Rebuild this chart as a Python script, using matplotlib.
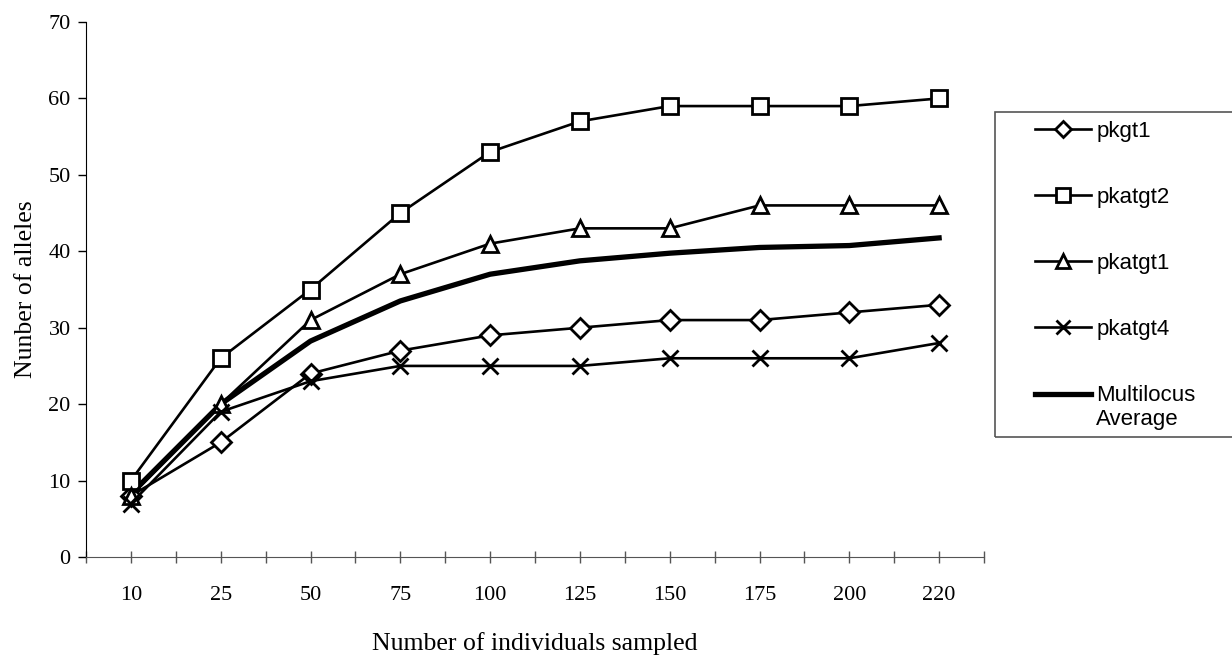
import matplotlib
matplotlib.use("Agg")
import matplotlib.pyplot as plt
from matplotlib.legend_handler import HandlerLine2D
from matplotlib.patches import Rectangle
import numpy as np

# data
samples = ["10", "25", "50", "75", "100", "125", "150", "175", "200", "220"]
pkgt1 = [8, 15, 24, 27, 29, 30, 31, 31, 32, 33]
pkatgt2 = [10, 26, 35, 45, 53, 57, 59, 59, 59, 60]
pkatgt1 = [8, 20, 31, 37, 41, 43, 43, 46, 46, 46]
pkatgt4 = [7, 19, 23, 25, 25, 25, 26, 26, 26, 28]
multilocus = [8.25, 20, 28.25, 33.5, 37, 38.75, 39.75, 40.5, 40.75, 41.75]

plt.rcParams['font.family'] = ['Liberation Serif', 'DejaVu Serif']


class HandlerTopLine(HandlerLine2D):
    # puts the handle line level with the first text line of a 2-line label
    def create_artists(self, legend, orig_handle, xdescent, ydescent, width, height, fontsize, trans):
        artists = super().create_artists(legend, orig_handle, xdescent, ydescent, width, height, fontsize, trans)
        for a in artists:
            a.set_ydata(np.asarray(a.get_ydata()) + 0.62 * fontsize)
        return artists


W, H = 1232, 659
fig = plt.figure(figsize=(W / 100, H / 100), dpi=100)
ax = fig.add_axes([86 / W, 1 - 557 / H, 898 / W, 535 / H])

x = np.arange(len(samples))
lw = 1.9
ax.plot(x, pkgt1, color='black', lw=lw, marker='D', ms=10, mfc='white', mew=2, label='pkgt1', zorder=3)
ax.plot(x, pkatgt2, color='black', lw=lw, marker='s', ms=12, mfc='white', mew=2, label='pkatgt2', zorder=3)
ax.plot(x, pkatgt1, color='black', lw=lw, marker='^', ms=12, mfc='white', mew=2, label='pkatgt1', zorder=3)
ax.plot(x, pkatgt4, color='black', lw=lw, marker='x', ms=12, mew=2, label='pkatgt4', zorder=3)
ax.plot(x, multilocus, color='black', lw=3.8, label='Multilocus\nAverage', zorder=2)

ax.set_xlim(-0.5, len(samples) - 0.5)
ax.set_ylim(0, 70)
ax.set_yticks(np.arange(0, 71, 10))
ax.set_xticks(x)
ax.set_xticklabels(samples)
ax.set_xticks(np.arange(-0.5, len(samples)), minor=True)
ax.tick_params(axis='x', which='both', length=8, direction='inout', width=1, color='#555555')
ax.tick_params(axis='x', which='major', pad=17, labelsize=16)
ax.tick_params(axis='y', length=6, width=1, labelsize=16, pad=5)

ax.spines['top'].set_visible(False)
ax.spines['right'].set_visible(False)
ax.spines['bottom'].set_color('#555555')

ax.set_ylabel('Nunber of alleles', fontsize=18.5, labelpad=8.5)
ax.set_xlabel('Number of individuals sampled', fontsize=18.5, labelpad=19)

# legend frame runs past the right edge, as in the source image
fig.patches.append(Rectangle((995 / W, 1 - 437 / H), 300 / W, 325 / H, transform=fig.transFigure,
                             fill=False, edgecolor='#555555', lw=1.2))
handles, labels = ax.get_legend_handles_labels()
leg = ax.legend(handles, labels, loc='upper left', bbox_to_anchor=(1035 / W, 1 - 121 / H),
                bbox_transform=fig.transFigure, frameon=False, borderpad=0, borderaxespad=0,
                labelspacing=2.02, handlelength=2.5, handletextpad=0.25, markerscale=0.85,
                handler_map={handles[4]: HandlerTopLine()},
                prop={'family': 'Liberation Sans', 'size': 16})

fig.savefig('out.png', dpi=100)
